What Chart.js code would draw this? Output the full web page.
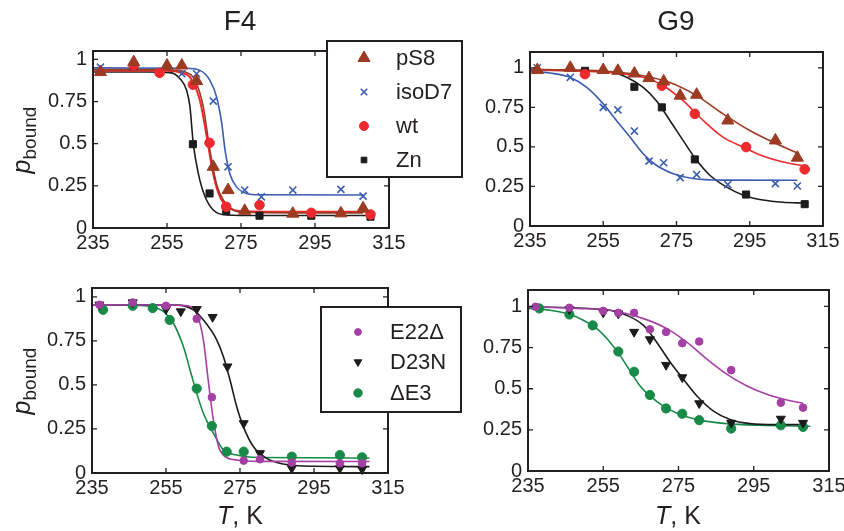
<!DOCTYPE html>
<html><head><meta charset="utf-8">
<script src="https://cdn.jsdelivr.net/npm/chart.js@4.4.1/dist/chart.umd.min.js"></script>
<style>
html,body{margin:0;padding:0;background:#fff;overflow:hidden;}
#wrap{position:relative;width:844px;height:531px;overflow:hidden;font-family:'Liberation Sans',Arial,Helvetica,sans-serif;color:#231f20;}
canvas{position:absolute;}
.t{position:absolute;white-space:nowrap;line-height:1;}
.ttl{font-size:28px;transform:translate(-50%,-50%);}
.yl{font-size:25px;transform:translate(-50%,-50%) rotate(-90deg);}
.yl sub{font-size:19px;font-style:normal;vertical-align:-6px;}
.xl{font-size:25px;transform:translate(-50%,-50%);}
</style></head><body><div id="wrap">
<canvas id="c1" width="470" height="265" style="left:0;top:0"></canvas>
<canvas id="c2" width="390" height="265" style="left:470px;top:0"></canvas>
<canvas id="c3" width="470" height="266" style="left:0;top:265px"></canvas>
<canvas id="c4" width="390" height="266" style="left:470px;top:265px"></canvas>
<div class="t ttl" style="left:240px;top:21px">F4</div>
<div class="t ttl" style="left:676px;top:21px">G9</div>
<div class="t yl" style="left:24px;top:140px"><i>p</i><sub>bound</sub></div>
<div class="t yl" style="left:24px;top:381px"><i>p</i><sub>bound</sub></div>
<div class="t xl" style="left:240px;top:515px"><i>T</i>, K</div>
<div class="t xl" style="left:678px;top:515px"><i>T</i>, K</div>
</div>
<script>
// ---------------- tick labels ----------------
const xTickValues = [235, 255, 275, 295, 315];
const yTickValues = [0, 0.25, 0.5, 0.75, 1];

// ---------------- F4 (top left) ----------------
const f4_pS8_T    = [237, 246, 255, 259, 263, 267.5, 271.5, 276, 289, 302, 308];
const f4_pS8_p    = [0.925, 0.984, 0.964, 0.964, 0.872, 0.363, 0.225, 0.102, 0.085, 0.087, 0.117];
const f4_pS8_fitT = [235, 255, 260, 262.5, 264.8, 266.6, 268.4, 270.2, 272.9, 276, 290, 308];
const f4_pS8_fitP = [0.94, 0.938, 0.925, 0.88, 0.72, 0.46, 0.26, 0.166, 0.107, 0.093, 0.09, 0.09];

const f4_iso_T    = [237, 259, 263, 267.5, 271.5, 276, 280.5, 289, 302, 308];
const f4_iso_p    = [0.954, 0.915, 0.915, 0.753, 0.363, 0.225, 0.185, 0.225, 0.229, 0.189];
const f4_iso_fitT = [235, 260, 263.9, 266.6, 268.4, 269.8, 270.7, 272, 273.8, 276.5, 280, 308];
const f4_iso_fitP = [0.95, 0.948, 0.935, 0.876, 0.777, 0.62, 0.46, 0.32, 0.244, 0.205, 0.197, 0.196];

const f4_wt_T     = [246, 253, 262, 266.5, 271, 280, 294, 310];
const f4_wt_p     = [0.964, 0.92, 0.85, 0.505, 0.126, 0.136, 0.09, 0.08];
const f4_wt_fitT  = [235, 255, 259, 261.2, 263.9, 265.6, 267.5, 269.3, 272, 275.8, 290, 310];
const f4_wt_fitP  = [0.935, 0.933, 0.92, 0.895, 0.757, 0.56, 0.32, 0.185, 0.117, 0.1, 0.097, 0.097];

const f4_zn_T     = [246, 262, 266.5, 271, 280, 294, 310];
const f4_zn_p     = [0.96, 0.497, 0.205, 0.10, 0.073, 0.073, 0.067];
const f4_zn_fitT  = [235, 250, 255.8, 258.5, 260.3, 261.2, 262.1, 263.5, 265.3, 267.5, 271.1, 280, 310];
const f4_zn_fitP  = [0.925, 0.925, 0.922, 0.886, 0.817, 0.72, 0.5, 0.32, 0.185, 0.107, 0.077, 0.074, 0.074];

// ---------------- G9 (top right) ----------------
const g9_pS8_T    = [237, 246, 255, 259, 263.5, 267.5, 271.5, 276, 280.5, 289, 302, 308];
const g9_pS8_p    = [0.986, 1.0, 0.986, 0.981, 0.964, 0.935, 0.914, 0.824, 0.830, 0.667, 0.541, 0.432];
const g9_pS8_fitT = [235, 245, 256.8, 265.9, 273.2, 280.5, 287.7, 295, 302.3, 308];
const g9_pS8_fitP = [0.99, 0.987, 0.977, 0.95, 0.907, 0.824, 0.709, 0.604, 0.52, 0.462];

const g9_iso_T    = [237, 246, 255, 259, 263.5, 267.5, 271.5, 276, 280.5, 289, 302, 308];
const g9_iso_p    = [1.0, 0.94, 0.75, 0.734, 0.60, 0.41, 0.40, 0.306, 0.325, 0.262, 0.268, 0.253];
const g9_iso_fitT = [235, 240.5, 245.9, 250.5, 255, 258.6, 262.3, 265.9, 269.5, 274.1, 279.5, 288, 308];
const g9_iso_fitP = [0.98, 0.967, 0.94, 0.876, 0.772, 0.667, 0.562, 0.457, 0.384, 0.331, 0.3, 0.29, 0.289];

const g9_wt_T     = [250, 271, 280, 294, 310];
const g9_wt_p     = [0.96, 0.887, 0.709, 0.499, 0.358];
const g9_wt_fitT  = [235, 245, 256.8, 265.9, 271.4, 276.8, 282.3, 287.7, 293.2, 298.6, 304.1, 310];
const g9_wt_fitP  = [0.985, 0.982, 0.97, 0.94, 0.887, 0.792, 0.667, 0.562, 0.499, 0.442, 0.404, 0.38];

const g9_zn_T     = [250, 263.5, 271, 280, 294, 310];
const g9_zn_p     = [0.981, 0.88, 0.75, 0.421, 0.199, 0.138];
const g9_zn_fitT  = [235, 250, 256.8, 261.4, 265.9, 269.5, 273.2, 276.8, 280.5, 284.1, 288.6, 293.2, 298.6, 304, 310];
const g9_zn_fitP  = [0.985, 0.982, 0.975, 0.94, 0.876, 0.792, 0.667, 0.541, 0.415, 0.321, 0.247, 0.195, 0.164, 0.15, 0.145];

// ---------------- F4 mutants (bottom left) ----------------
const f4m_e22_T    = [237, 246, 255, 263.3, 267.4, 276, 280.4, 289, 302, 308];
const f4m_e22_p    = [0.955, 0.968, 0.949, 0.875, 0.43, 0.07, 0.078, 0.059, 0.055, 0.055];
const f4m_e22_fitT = [235, 258, 261.5, 263.3, 265.1, 266.4, 267.8, 269.2, 271, 274.1, 280, 310];
const f4m_e22_fitP = [0.955, 0.953, 0.945, 0.907, 0.756, 0.528, 0.301, 0.15, 0.093, 0.074, 0.066, 0.065];

const f4m_d23_T    = [237, 246, 255, 259, 263.3, 267.6, 271.6, 276, 280.4, 289, 302, 308];
const f4m_d23_p    = [0.955, 0.968, 0.93, 0.917, 0.93, 0.885, 0.604, 0.282, 0.112, 0.027, 0.027, 0.021];
const f4m_d23_fitT = [235, 258, 262.4, 265.1, 268.7, 270.5, 272.3, 274.1, 275.9, 278.6, 282.2, 286.7, 295, 310];
const f4m_d23_fitP = [0.955, 0.953, 0.926, 0.869, 0.756, 0.661, 0.528, 0.377, 0.263, 0.15, 0.083, 0.051, 0.038, 0.036];

const f4m_de3_T    = [238, 246, 251.4, 256, 263.3, 267.4, 271.4, 276, 289, 302, 308];
const f4m_de3_p    = [0.926, 0.949, 0.936, 0.869, 0.479, 0.267, 0.121, 0.121, 0.093, 0.102, 0.089];
const f4m_de3_fitT = [235, 247, 250.7, 254.3, 257, 259.7, 261.5, 263.3, 265.1, 267.8, 270.5, 274.1, 280, 310];
const f4m_de3_fitP = [0.955, 0.953, 0.945, 0.917, 0.85, 0.718, 0.585, 0.453, 0.339, 0.226, 0.131, 0.102, 0.088, 0.085];

// ---------------- G9 mutants (bottom right) ----------------
const g9m_e22_T    = [237, 246, 255, 259, 263.2, 267.4, 271.7, 276, 280.5, 289, 302.2, 308.1];
const g9m_e22_p    = [0.998, 0.992, 0.973, 0.961, 0.961, 0.861, 0.845, 0.777, 0.787, 0.613, 0.415, 0.385];
const g9m_e22_fitT = [235, 247.9, 256.8, 265.7, 271.9, 277.2, 282.5, 287.8, 293.2, 298.5, 303.8, 308.1];
const g9m_e22_fitP = [0.998, 0.988, 0.977, 0.926, 0.865, 0.783, 0.681, 0.589, 0.517, 0.466, 0.431, 0.411];

const g9m_d23_T    = [246, 255, 259, 263.2, 267.4, 271.7, 276, 280.5, 289, 302.2, 308.1];
const g9m_d23_p    = [0.983, 0.963, 0.957, 0.845, 0.8, 0.644, 0.569, 0.411, 0.292, 0.317, 0.292];
const g9m_d23_fitT = [235, 256.8, 261.2, 265.7, 269.2, 272.8, 276.3, 279.9, 284.3, 288.7, 294, 301.1, 309.1];
const g9m_d23_fitP = [0.998, 0.977, 0.947, 0.885, 0.783, 0.661, 0.558, 0.456, 0.364, 0.313, 0.288, 0.282, 0.282];

const g9m_de3_T    = [238, 246, 252.2, 259, 263.2, 267.4, 271.7, 276, 280.5, 289, 302.2, 308.1];
const g9m_de3_p    = [0.988, 0.951, 0.885, 0.726, 0.603, 0.462, 0.38, 0.348, 0.309, 0.258, 0.278, 0.268];
const g9m_de3_fitT = [235, 240.9, 246.2, 249.7, 253.3, 256.8, 259.5, 262.1, 264.8, 267.4, 271, 275.4, 280.7, 287.8, 296.7, 310];
const g9m_de3_fitP = [0.988, 0.977, 0.951, 0.916, 0.865, 0.783, 0.701, 0.609, 0.517, 0.456, 0.394, 0.344, 0.309, 0.288, 0.278, 0.272];

// ---------------- styling ----------------
const FONT = "'Liberation Sans', Arial, Helvetica, sans-serif";
const INK = '#231f20';
const C_BROWN = '#9c3a22', C_BLUE = '#3a5cae', C_RED = '#ee2a2e', C_BLACK = '#1c1c1c', C_PURPLE = '#a43fa3', C_GREEN = '#178a48';

function pts(T, p) { return T.map((t, i) => ({ x: t, y: p[i] })); }

function drawMarker(ctx, m, x, y) {
  ctx.save();
  ctx.fillStyle = m.color; ctx.strokeStyle = m.color;
  const bw = m.style === 'crossRot' ? 1.6 : 1;
  ctx.lineWidth = bw;
  Chart.helpers.drawPoint(ctx, { pointStyle: m.style, radius: m.lr, rotation: m.rot || 0, borderWidth: bw }, x, y);
  ctx.restore();
}

const framePlugin = {
  id: 'frame',
  afterDatasetsDraw(chart, args, o) {
    const { ctx, chartArea: a } = chart;
    const xs = chart.scales.x, ys = chart.scales.y;
    ctx.save();
    ctx.strokeStyle = INK;
    ctx.lineWidth = 1.3;
    ctx.beginPath();
    xs.ticks.forEach(t => {
      const px = xs.getPixelForValue(t.value);
      ctx.moveTo(px, a.bottom); ctx.lineTo(px, a.bottom - 5);
      ctx.moveTo(px, a.top); ctx.lineTo(px, a.top + 5);
    });
    ys.ticks.forEach(t => {
      const py = ys.getPixelForValue(t.value);
      ctx.moveTo(a.left, py); ctx.lineTo(a.left + 5, py);
      ctx.moveTo(a.right, py); ctx.lineTo(a.right - 5, py);
    });
    ctx.stroke();
    ctx.lineWidth = 2;
    ctx.strokeRect(a.left, a.top, a.right - a.left, a.bottom - a.top);
    const L = o.legend;
    if (L) {
      ctx.fillStyle = '#fff';
      ctx.fillRect(L.x, L.y, L.w, L.h);
      ctx.strokeRect(L.x, L.y, L.w, L.h);
      ctx.font = L.font + 'px ' + FONT;
      ctx.textBaseline = 'middle';
      ctx.textAlign = 'left';
      L.items.forEach((it, i) => {
        const yy = L.rows[i];
        drawMarker(ctx, it, L.mx, yy);
        ctx.fillStyle = INK;
        ctx.fillText(it.name, L.tx, yy + 1);
      });
    }
    ctx.restore();
  }
};

function makePanel(id, pad, wy, yMax, series, legend) {
  const datasets = [];
  series.forEach(s => {
    datasets.push({
      label: s.name, data: pts(s.T, s.p), showLine: false, order: 1,
      pointStyle: s.style, pointRadius: s.r, pointRotation: s.rot || 0,
      pointBackgroundColor: s.color, pointBorderColor: s.color,
      pointBorderWidth: s.style === 'crossRot' ? 1.6 : 1, clip: false
    });
  });
  series.forEach(s => {
    datasets.push({
      label: s.name + ' fit', data: pts(s.fitT, s.fitP), showLine: true, order: 2,
      pointRadius: 0, borderColor: s.color, borderWidth: s.lw || 1.6,
      cubicInterpolationMode: 'monotone', fill: false
    });
  });
  return new Chart(document.getElementById(id), {
    type: 'scatter',
    data: { datasets },
    plugins: [framePlugin],
    options: {
      responsive: false, animation: false, devicePixelRatio: 1,
      layout: { padding: pad },
      plugins: { legend: { display: false }, tooltip: { enabled: false }, title: { display: false },
                 frame: { legend } },
      scales: {
        x: {
          type: 'linear', min: 235, max: 315,
          afterBuildTicks(s) { s.ticks = xTickValues.map(v => ({ value: v })); },
          afterFit(s) { s.height = 30; },
          grid: { display: false, drawTicks: false }, border: { display: false },
          ticks: { autoSkip: false, maxRotation: 0, padding: 3, color: INK,
                   font: { family: FONT, size: 20 }, callback: v => String(v) }
        },
        y: {
          type: 'linear', min: 0, max: yMax,
          afterBuildTicks(s) { s.ticks = yTickValues.map(v => ({ value: v })); },
          afterFit(s) { s.width = wy; },
          grid: { display: false, drawTicks: false }, border: { display: false },
          ticks: { padding: 6, color: INK, font: { family: FONT, size: 20 }, callback: v => String(v) }
        }
      }
    }
  });
}

const sPS8 = { name: 'pS8', color: C_BROWN, style: 'triangle', r: 7, lr: 7 };
const sISO = { name: 'isoD7', color: C_BLUE, style: 'crossRot', r: 5, lr: 4.6 };
const sWT  = { name: 'wt', color: C_RED, style: 'circle', r: 4.8, lr: 4.5, lw: 2 };
const sZN  = { name: 'Zn', color: C_BLACK, style: 'rect', r: 5, lr: 4 };
const sE22 = { name: 'E22\u0394', color: C_PURPLE, style: 'circle', r: 3.8, lr: 3.4 };
const sD23 = { name: 'D23N', color: C_BLACK, style: 'triangle', rot: 180, r: 5.2, lr: 4.4 };
const sDE3 = { name: '\u0394E3', color: C_GREEN, style: 'circle', r: 4.6, lr: 4.2 };

makePanel('c1', { left: 23, top: 51, right: 81, bottom: 7 }, 70, 1.05, [
  Object.assign({}, sPS8, { T: f4_pS8_T, p: f4_pS8_p, fitT: f4_pS8_fitT, fitP: f4_pS8_fitP }),
  Object.assign({}, sISO, { T: f4_iso_T, p: f4_iso_p, fitT: f4_iso_fitT, fitP: f4_iso_fitP }),
  Object.assign({}, sWT,  { T: f4_wt_T,  p: f4_wt_p,  fitT: f4_wt_fitT,  fitP: f4_wt_fitP }),
  Object.assign({}, sZN,  { T: f4_zn_T,  p: f4_zn_p,  fitT: f4_zn_fitT,  fitP: f4_zn_fitP })
], { x: 327, y: 41, w: 135, h: 136, mx: 364, tx: 396, rows: [58, 92, 126, 160], font: 22,
     items: [sPS8, sISO, sWT, sZN] });

makePanel('c2', { left: 10, top: 52, right: 37, bottom: 9 }, 50, 1.1, [
  Object.assign({}, sPS8, { T: g9_pS8_T, p: g9_pS8_p, fitT: g9_pS8_fitT, fitP: g9_pS8_fitP }),
  Object.assign({}, sISO, { T: g9_iso_T, p: g9_iso_p, fitT: g9_iso_fitT, fitP: g9_iso_fitP }),
  Object.assign({}, sWT,  { T: g9_wt_T,  p: g9_wt_p,  fitT: g9_wt_fitT,  fitP: g9_wt_fitP, lw: 1.6 }),
  Object.assign({}, sZN,  { T: g9_zn_T,  p: g9_zn_p,  fitT: g9_zn_fitT,  fitP: g9_zn_fitP })
], null);

makePanel('c3', { left: 22, top: 23, right: 82, bottom: 28 }, 70, 1.05, [
  Object.assign({}, sE22, { T: f4m_e22_T, p: f4m_e22_p, fitT: f4m_e22_fitT, fitP: f4m_e22_fitP }),
  Object.assign({}, sD23, { T: f4m_d23_T, p: f4m_d23_p, fitT: f4m_d23_fitT, fitP: f4m_d23_fitP }),
  Object.assign({}, sDE3, { T: f4m_de3_T, p: f4m_de3_p, fitT: f4m_de3_fitT, fitP: f4m_de3_fitP })
], { x: 321, y: 42, w: 140, h: 105, mx: 358, tx: 390, rows: [67, 97, 128], font: 22,
     items: [sE22, sD23, sDE3] });

makePanel('c4', { left: 8, top: 25, right: 31, bottom: 30 }, 50, 1.1, [
  Object.assign({}, sE22, { T: g9m_e22_T, p: g9m_e22_p, fitT: g9m_e22_fitT, fitP: g9m_e22_fitP }),
  Object.assign({}, sD23, { T: g9m_d23_T, p: g9m_d23_p, fitT: g9m_d23_fitT, fitP: g9m_d23_fitP }),
  Object.assign({}, sDE3, { T: g9m_de3_T, p: g9m_de3_p, fitT: g9m_de3_fitT, fitP: g9m_de3_fitP })
], null);
</script>
</body></html>
